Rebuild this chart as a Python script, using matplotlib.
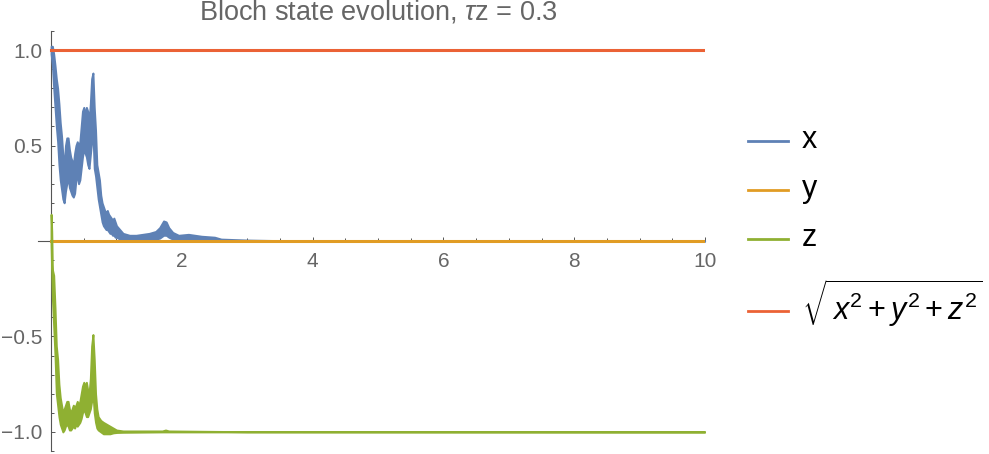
import matplotlib
matplotlib.use("Agg")
import matplotlib.pyplot as plt
from matplotlib.ticker import MultipleLocator
from matplotlib.lines import Line2D

plt.rcParams['font.family'] = ['Liberation Sans', 'DejaVu Sans']
plt.rcParams['mathtext.fontset'] = 'custom'
plt.rcParams['mathtext.rm'] = 'Liberation Sans'
plt.rcParams['mathtext.it'] = 'Liberation Sans:italic'

# Mathematica-Farben
c_x = '#5E81B5'
c_y = '#E19C24'
c_z = '#8FB032'
c_n = '#EB6235'

# x-Komponente: obere/untere Kante des verrauschten Bandes
t_x = [0.00, 0.02, 0.04, 0.06, 0.08, 0.10, 0.12, 0.14, 0.16, 0.18,
       0.20, 0.22, 0.24, 0.26, 0.28, 0.30, 0.32, 0.34, 0.36, 0.38,
       0.40, 0.42, 0.44, 0.46, 0.48, 0.50, 0.52, 0.54, 0.56, 0.58,
       0.60, 0.62, 0.64, 0.66, 0.68, 0.70, 0.72, 0.74, 0.76, 0.78,
       0.80, 0.82, 0.84, 0.86, 0.88, 0.90, 0.92, 0.94, 0.96, 0.98,
       1.00, 1.05, 1.10, 1.20, 1.30, 1.40, 1.50, 1.60, 1.66, 1.72,
       1.76, 1.80, 1.86, 1.95, 2.10, 2.30, 2.50, 2.60, 3.00, 3.50, 10.0]
x_hi = [1.02, 1.02, 0.98, 0.92, 0.85, 0.80, 0.72, 0.62, 0.55, 0.45,
        0.40, 0.50, 0.54, 0.54, 0.48, 0.44, 0.42, 0.40, 0.46, 0.50,
        0.52, 0.50, 0.52, 0.60, 0.68, 0.70, 0.66, 0.70, 0.68, 0.62,
        0.72, 0.85, 0.88, 0.70, 0.58, 0.40, 0.36, 0.32, 0.24, 0.20,
        0.18, 0.16, 0.15, 0.16, 0.14, 0.13, 0.12, 0.11, 0.12, 0.10,
        0.08, 0.06, 0.04, 0.03, 0.03, 0.035, 0.04, 0.05, 0.07, 0.105,
        0.10, 0.07, 0.045, 0.03, 0.035, 0.025, 0.02, 0.01, 0.005, 0.002, 0.0]
x_lo = [0.98, 0.92, 0.80, 0.70, 0.60, 0.52, 0.40, 0.32, 0.27, 0.22,
        0.20, 0.26, 0.30, 0.33, 0.28, 0.26, 0.24, 0.23, 0.25, 0.32,
        0.34, 0.30, 0.32, 0.38, 0.44, 0.48, 0.46, 0.44, 0.40, 0.38,
        0.45, 0.52, 0.56, 0.38, 0.34, 0.28, 0.22, 0.18, 0.14, 0.10,
        0.08, 0.07, 0.06, 0.06, 0.05, 0.04, 0.04, 0.03, 0.03, 0.02,
        0.02, 0.01, 0.01, 0.005, 0.005, 0.005, 0.01, 0.01, 0.015, 0.03,
        0.03, 0.02, 0.01, 0.005, 0.005, 0.005, 0.003, 0.002, 0.0, 0.0, 0.0]

# y-Komponente bleibt bei null
t_y = [0.0, 10.0]
y_val = [0.0, 0.0]

# z-Komponente
t_z = [0.00, 0.01, 0.02, 0.04, 0.06, 0.08, 0.10, 0.12, 0.14, 0.16,
       0.18, 0.20, 0.22, 0.24, 0.26, 0.28, 0.30, 0.32, 0.34, 0.36,
       0.38, 0.40, 0.42, 0.44, 0.46, 0.48, 0.50, 0.52, 0.54, 0.56,
       0.58, 0.60, 0.62, 0.64, 0.66, 0.68, 0.70, 0.72, 0.76, 0.80,
       0.85, 0.90, 0.95, 1.00, 1.10, 1.70, 1.75, 1.80, 3.00, 10.0]
z_hi = [0.14, 0.05, -0.15, -0.18, -0.35, -0.55, -0.62, -0.75, -0.82, -0.86,
        -0.90, -0.88, -0.86, -0.84, -0.84, -0.88, -0.90, -0.88, -0.86, -0.87,
        -0.86, -0.84, -0.86, -0.84, -0.80, -0.76, -0.74, -0.76, -0.74, -0.78,
        -0.80, -0.72, -0.55, -0.49, -0.62, -0.80, -0.88, -0.92, -0.94, -0.95,
        -0.96, -0.97, -0.98, -0.99, -0.995, -0.995, -0.99, -0.995, -0.999, -1.0]
z_lo = [-0.02, -0.17, -0.30, -0.45, -0.60, -0.80, -0.86, -0.92, -0.96, -0.98,
        -1.00, -0.99, -0.97, -0.96, -0.97, -0.99, -0.99, -0.98, -0.97, -0.98,
        -0.96, -0.97, -0.96, -0.95, -0.93, -0.90, -0.88, -0.90, -0.92, -0.92,
        -0.90, -0.88, -0.84, -0.80, -0.90, -0.95, -0.98, -0.99, -1.00, -1.01,
        -1.01, -1.01, -1.005, -1.003, -1.002, -1.0, -1.0, -1.0, -1.0, -1.0]

# Norm der Blochvektors
t_n = [0.0, 10.0]
n_val = [1.0, 1.0]

x_ticks = [2, 4, 6, 8, 10]
y_ticks = [-1.0, -0.5, 0.5, 1.0]
y_labels = ['\u22121.0', '\u22120.5', '0.5', '1.0']

legend_labels = ['x', 'y', 'z', '$\\sqrt{\\,x^2+y^2+z^2}$']
legend_colors = [c_x, c_y, c_z, c_n]

fig = plt.figure(figsize=(9.89, 4.54), dpi=100)
ax = fig.add_axes([38/989, 3/454, 667/989, 420/454])

ax.fill_between(t_x, x_lo, x_hi, color=c_x, lw=1.4, zorder=2)
ax.plot(t_y, y_val, color=c_y, lw=2.2, zorder=3)
ax.fill_between(t_z, z_lo, z_hi, color=c_z, lw=1.4, zorder=4)
ax.plot(t_n, n_val, color=c_n, lw=2.2, zorder=5)

ax.set_xlim(-0.2, 10.0)
ax.set_ylim(-1.1, 1.1)

# Achsen durch den Ursprung wie in Mathematica
for s in ['top', 'right']:
    ax.spines[s].set_visible(False)
ax.spines['left'].set_position(('data', 0))
ax.spines['bottom'].set_position(('data', 0))
for s in ['left', 'bottom']:
    ax.spines[s].set_color('#555555')
    ax.spines[s].set_linewidth(0.8)
    ax.spines[s].set_zorder(1)

ax.set_xticks(x_ticks)
ax.xaxis.set_minor_locator(MultipleLocator(0.5))
ax.set_yticks(y_ticks)
ax.set_yticklabels(y_labels)
ax.yaxis.set_minor_locator(MultipleLocator(0.1))
ax.tick_params(which='both', direction='in', colors='#555555', labelcolor='#666666',
               labelsize=15, width=0.7)
ax.tick_params(which='major', length=3)
ax.tick_params(which='minor', length=2)
ax.tick_params(axis='x', pad=8)
ax.tick_params(axis='y', pad=6)

fig.text(378.5/989, 1 - 12/454, 'Bloch state evolution, $\\tau$z = 0.3',
         ha='center', va='center', fontsize=19.5, color='#666666')

# Legende von Hand, damit die Abstände wie im Original sind
line_y = [141, 190, 239, 311]
base_y = [148, 197, 246, 320]
for lab, col, ly, by in zip(legend_labels, legend_colors, line_y, base_y):
    fig.add_artist(Line2D([748/989, 788/989], [1 - ly/454, 1 - ly/454],
                          transform=fig.transFigure, color=col, lw=2))
    fig.text(802/989, 1 - by/454, lab, ha='left', va='baseline',
             fontsize=22, color='black')

fig.savefig('out.png', dpi=100)
